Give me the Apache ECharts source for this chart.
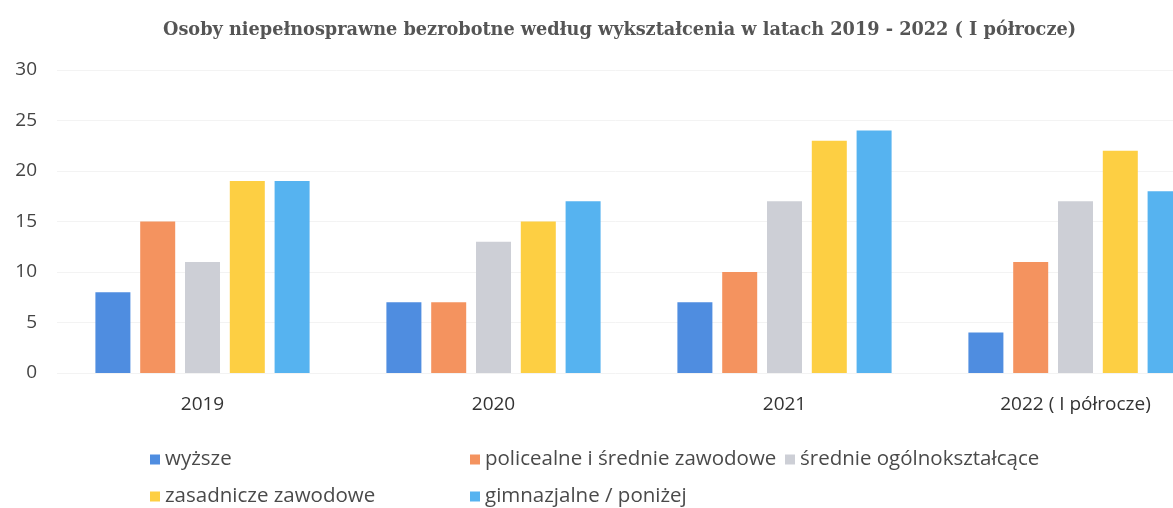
<!DOCTYPE html>
<html>
<head>
<meta charset="utf-8">
<script src="https://cdn.jsdelivr.net/npm/echarts@6/dist/echarts.min.js"></script>
<style>
  html, body { margin: 0; padding: 0; background: #fff; }
  #main { width: 1173px; height: 508px; }
</style>
</head>
<body>
<div id="main"></div>
<script>
// dane
var years = ['2019', '2020', '2021', '2022 ( I półrocze)'];
var seriesNames = ['wyższe', 'policealne i średnie zawodowe', 'średnie ogólnokształcące', 'zasadnicze zawodowe', 'gimnazjalne / poniżej'];
var wyzsze = [8, 7, 7, 4];
var policealne = [15, 7, 10, 11];
var ogolnoksztalcace = [11, 13, 17, 17];
var zasadnicze = [19, 15, 23, 22];
var gimnazjalne = [19, 17, 24, 18];
var yTicks = [0, 5, 10, 15, 20, 25, 30];

var colors = ['#4f8de0', '#f4935f', '#cdcfd6', '#fdcf43', '#56b3f0'];
var values = [wyzsze, policealne, ogolnoksztalcace, zasadnicze, gimnazjalne];

var myChart = echarts.init(document.getElementById('main'));

var series = [];
for (var i = 0; i < seriesNames.length; i++) {
  series.push({
    name: seriesNames[i],
    type: 'bar',
    barWidth: 35,
    barGap: '28%',
    itemStyle: { color: colors[i] },
    data: values[i]
  });
}

// legenda w dwóch wierszach, jak w oryginale
var legendPos = [
  { left: 150, top: 449 },
  { left: 470, top: 449 },
  { left: 785, top: 449 },
  { left: 150, top: 486 },
  { left: 470, top: 486 }
];
var legends = [];
for (var j = 0; j < seriesNames.length; j++) {
  legends.push({
    data: [seriesNames[j]],
    left: legendPos[j].left,
    top: legendPos[j].top,
    icon: 'rect',
    itemWidth: 10,
    itemHeight: 10,
    itemGap: 5,
    padding: 0,
    textStyle: { fontFamily: 'Open Sans', fontSize: 20.5, color: '#4a4a4a' }
  });
}

var option = {
  animation: false,
  backgroundColor: '#fff',
  title: {
    text: 'Osoby niepełnosprawne bezrobotne według wykształcenia w latach 2019 - 2022 ( I półrocze)',
    left: 158,
    top: 16,
    textStyle: { fontFamily: 'DejaVu Serif', fontWeight: 'bold', fontSize: 17.7, color: '#555' }
  },
  legend: legends,
  // wykres w oryginale jest przycięty z prawej strony
  grid: { left: 57, width: 1164, top: 70, bottom: 135, outerBoundsMode: 'none' },
  xAxis: {
    type: 'category',
    data: years,
    axisLine: { show: false },
    axisTick: { show: false },
    axisLabel: { fontFamily: 'Open Sans', fontSize: 19, color: '#333', margin: 22 }
  },
  yAxis: {
    type: 'value',
    min: yTicks[0],
    max: yTicks[yTicks.length - 1],
    interval: yTicks[1] - yTicks[0],
    axisLine: { show: false },
    axisTick: { show: false },
    splitLine: { lineStyle: { color: '#f3f3f3' } },
    axisLabel: { fontFamily: 'Open Sans', fontSize: 19, color: '#444', margin: 20 }
  },
  series: series
};
myChart.setOption(option);
</script>
</body>
</html>
